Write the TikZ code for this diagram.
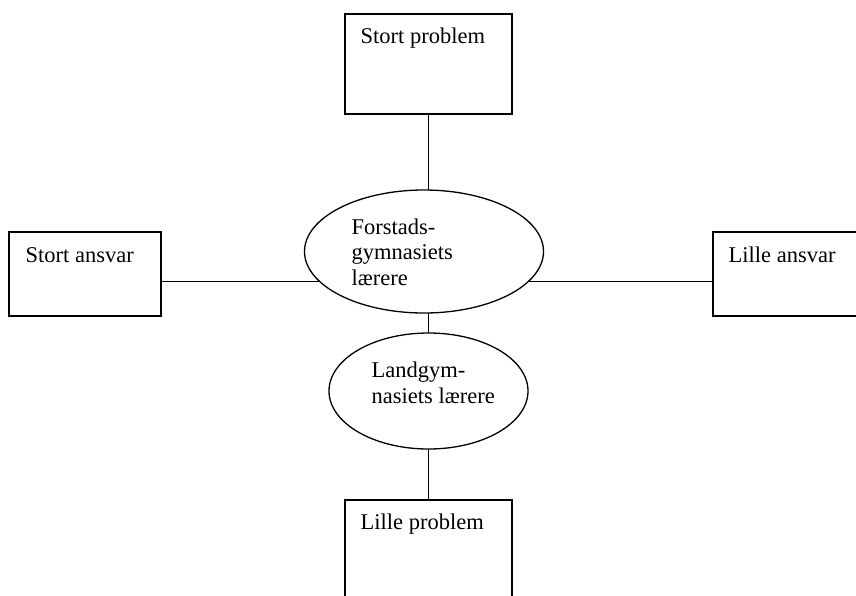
\documentclass[tikz,border=0pt]{standalone}
\usepackage{fontspec}
\setmainfont{Liberation Serif}
\usetikzlibrary{shapes.geometric}
\begin{document}
\begin{tikzpicture}[x=1pt,y=-1pt, line width=1.3pt,
  box/.style={draw, rectangle, inner sep=0pt, outer sep=0pt, minimum width=#1},
  box/.default=167pt,
  oval/.style={draw, ellipse, inner sep=0pt, outer sep=0pt},
  lbl/.style={anchor=base west, inner sep=0pt, align=left,
    font=\fontsize{22.5pt}{25.5pt}\selectfont}]
\useasboundingbox (0,0) rectangle (856,595);
\clip (0,0) rectangle (856,595);

% boxes
\node[box, minimum height=100pt] (top) at (428.5,64) {};
\node[box=152pt, minimum height=84pt] (left) at (85,274) {};
\node[box=152pt, minimum height=84pt] (right) at (789,274) {};
\node[box, minimum height=100pt] (bot) at (428.5,550) {};

% ellipses
\node[oval, minimum width=239pt, minimum height=123pt] (forst) at (424,251.5) {};
\node[oval, minimum width=199pt, minimum height=116pt] (land) at (428.5,391) {};

% labels (multi-line labels are placed by their last baseline)
\node[lbl] (ttop) at (360,43) {Stort problem};
\node[lbl] (tleft) at (25,262) {Stort ansvar};
\node[lbl] (tright) at (728,262) {Lille ansvar};
\node[lbl] (tbot) at (360,529) {Lille problem};
\node[lbl] (tforst) at (351,285) {Forstads-\\gymnasiets\\lærere};
\node[lbl] (tland) at (371,403) {Landgym-\\nasiets lærere};

% connectors
\draw (top.south) -- (top.south |- forst.north);
\draw (land.north) -- (land.north |- forst.south);
\draw (land.south) -- (bot.north);
\draw (forst.196.4) -- (forst.196.4 -| left.east);
\draw (forst.-16.4) -- (forst.-16.4 -| right.west);
\end{tikzpicture}
\end{document}
